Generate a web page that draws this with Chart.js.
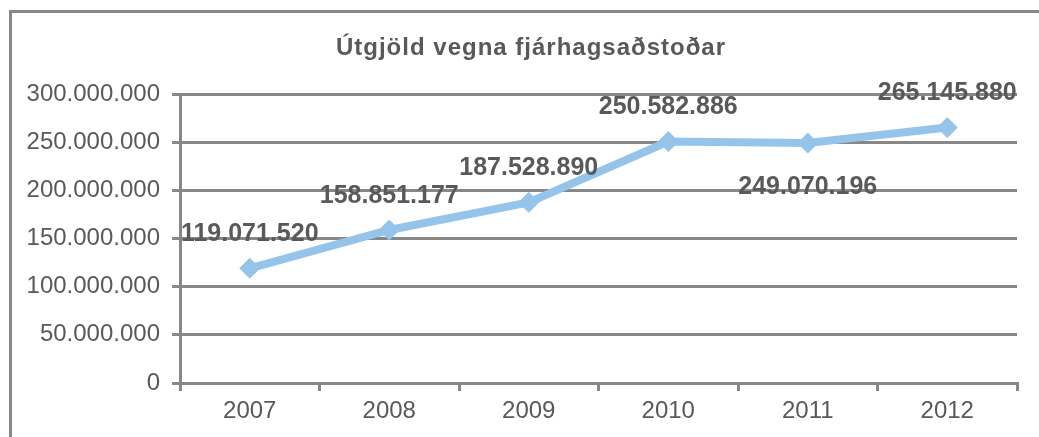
<!DOCTYPE html>
<html>
<head>
<meta charset="utf-8">
<script src="https://cdn.jsdelivr.net/npm/chart.js@4.4.1/dist/chart.umd.min.js"></script>
<style>
    html, body { margin: 0; padding: 0; background: #fff; overflow: hidden; }
    #frame {
        position: absolute; left: 9px; top: 10px; width: 1100px; height: 500px;
        border: 3px solid #878787; box-sizing: border-box;
    }
    #wrap { position: absolute; left: 0; top: 0; width: 1039px; height: 437px; }
</style>
</head>
<body>
<div id="frame"></div>
<div id="wrap"><canvas id="expensesChart" width="1039" height="437"></canvas></div>
<script>
// Data
const titleText = "Útgjöld vegna fjárhagsaðstoðar";
const years = ["2007", "2008", "2009", "2010", "2011", "2012"];
const expenses = [119071520, 158851177, 187528890, 250582886, 249070196, 265145880];
const labelSides = ["above", "above", "above", "above", "below", "above"];
const yTicks = [0, 50000000, 100000000, 150000000, 200000000, 250000000, 300000000];

const textColor = "#595959";
const gridColor = "#878787";

// 250582886 -> 250.582.886
function formatNumber(n) {
    return String(n).replace(/\B(?=(\d{3})+(?!\d))/g, ".");
}

// Title and point labels, drawn after the chart
const labelsPlugin = {
    id: "pointLabels",
    afterDraw(chart) {
        const ctx = chart.ctx;
        ctx.save();
        ctx.fillStyle = textColor;
        ctx.textAlign = "center";
        ctx.textBaseline = "middle";

        ctx.font = "bold 24px 'Liberation Sans', Arial, sans-serif";
        ctx.letterSpacing = "1px";
        ctx.fillText(titleText, 531, 48);
        ctx.letterSpacing = "0px";

        const meta = chart.getDatasetMeta(0);
        ctx.font = "bold 25px 'Liberation Sans', Arial, sans-serif";
        meta.data.forEach((pt, i) => {
            const dy = labelSides[i] === "below" ? 44 : -34;
            ctx.fillText(formatNumber(expenses[i]), pt.x, pt.y + dy);
        });
        ctx.restore();
    }
};

const ctx = document.getElementById("expensesChart").getContext("2d");
const expensesChart = new Chart(ctx, {
    type: "line",
    data: {
        labels: years,
        datasets: [
            {
                data: expenses,
                borderColor: "#95c4ea",
                backgroundColor: "#95c4ea",
                borderWidth: 8,
                pointStyle: "rectRot",
                pointRadius: 10,
                pointBorderWidth: 1,
                tension: 0,
            },
        ],
    },
    options: {
        responsive: false,
        animation: false,
        layout: { padding: { top: 94, right: 22, left: 0, bottom: 0 } },
        plugins: {
            legend: { display: false },
            title: { display: false },
            tooltip: { enabled: false },
        },
        scales: {
            x: {
                offset: true,
                grid: {
                    offset: true,
                    drawOnChartArea: false,
                    drawTicks: true,
                    tickLength: 8,
                    color: gridColor,
                    lineWidth: 3,
                },
                border: { display: true, color: gridColor, width: 3 },
                ticks: {
                    color: textColor,
                    padding: 6,
                    font: { family: "'Liberation Sans', Arial, sans-serif", size: 24 },
                },
                afterFit: (scale) => { scale.height = 54; },
            },
            y: {
                min: 0,
                max: 300000000,
                afterBuildTicks: (scale) => {
                    scale.ticks = yTicks.map((v) => ({ value: v }));
                },
                grid: {
                    color: gridColor,
                    lineWidth: 3,
                    drawTicks: true,
                    tickLength: 8,
                },
                border: { display: true, color: gridColor, width: 3 },
                ticks: {
                    color: textColor,
                    padding: 12,
                    font: { family: "'Liberation Sans', Arial, sans-serif", size: 24 },
                    callback: (v) => formatNumber(v),
                },
                afterFit: (scale) => { scale.width = 180; },
            },
        },
    },
    plugins: [labelsPlugin],
});
</script>
</body>
</html>
